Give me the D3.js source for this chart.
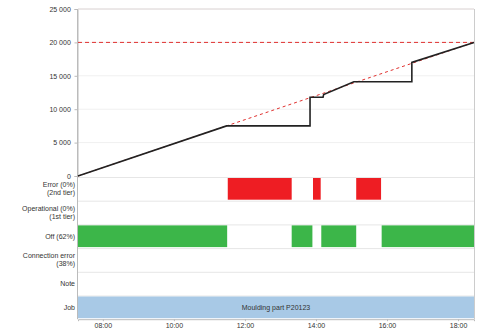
<!DOCTYPE html>
<html>
<head>
<meta charset="utf-8">
<script src="https://cdn.jsdelivr.net/npm/d3@7"></script>
<style>
  body { margin: 0; background: #fff; }
  text { font-family: "Liberation Sans", Arial, sans-serif; fill: #333; }
</style>
</head>
<body>
<div id="chart"></div>
<script>
'use strict';

// time span of the chart
const startTime = "07:18";
const endTime = "18:27";

// produced quantity (actual, stepped) and target line
const actualTimes = ["07:18", "11:29", "13:50", "13:50", "14:12", "14:13", "15:04", "16:42", "16:42", "18:27"];
const actualValues = [0, 7500, 7500, 11800, 11800, 12200, 14100, 14100, 17000, 20000];
const targetTimes = ["07:18", "18:27"];
const targetValues = [0, 20000];
const goalValue = 20000;

const yTicks = [0, 5000, 10000, 15000, 20000, 25000];
const xTicks = ["08:00", "10:00", "12:00", "14:00", "16:00", "18:00"];

// state lanes
const laneLabels = [["Error (0%)", "(2nd tier)"], ["Operational (0%)", "(1st tier)"], ["Off (62%)"],
    ["Connection error", "(38%)"], ["Note"], ["Job"]];
const errorStarts = ["11:31", "13:55", "15:08"];
const errorEnds = ["13:19", "14:08", "15:50"];
const offStarts = ["07:18", "13:19", "14:09", "15:51"];
const offEnds = ["11:30", "13:54", "15:08", "18:27"];
const jobStarts = ["07:18"];
const jobEnds = ["18:27"];
const jobNames = ["Moulding part P20123"];

const width = 477, height = 330;
const margin = { top: 9, left: 78, right: 3 };
const chartBottom = 176;
const laneH = 23.7;

const parse = d3.timeParse("%H:%M");

const svg = d3.select("#chart").append("svg")
    .attr("width", width)
    .attr("height", height);

const x = d3.scaleTime()
    .domain([parse(startTime), parse(endTime)])
    .range([margin.left, width - margin.right]);

const y = d3.scaleLinear()
    .domain([0, 25000])
    .range([chartBottom, margin.top]);

const fmt = v => v === 0 ? "0" : d3.format(",")(v).replace(",", " ");

// faint grid
svg.append("g")
    .selectAll("line")
    .data(yTicks.slice(1, -1))
    .join("line")
    .attr("x1", margin.left).attr("x2", width - margin.right)
    .attr("y1", d => y(d)).attr("y2", d => y(d))
    .attr("stroke", "#f0f0f0");

// frame
svg.append("line")
    .attr("x1", margin.left).attr("x2", width - margin.right)
    .attr("y1", margin.top).attr("y2", margin.top)
    .attr("stroke", "#d8d0d0");

// y axis
const yAxis = d3.axisLeft(y).tickValues(yTicks).tickFormat(fmt).tickSize(3);
svg.append("g")
    .attr("transform", `translate(${margin.left - 0.5},0)`)
    .call(yAxis)
    .call(g => g.select(".domain").attr("stroke", "#bbb"))
    .call(g => g.selectAll(".tick line").attr("stroke", "#bbb"))
    .call(g => g.selectAll("text").attr("font-size", 7).attr("fill", "#555").attr("dx", "-0.1em"));

// lanes
const laneTop = chartBottom + 1;
const lanes = svg.append("g");
lanes.selectAll("line")
    .data(d3.range(laneLabels.length))
    .join("line")
    .attr("x1", margin.left).attr("x2", width - margin.right)
    .attr("y1", i => laneTop + i * laneH + 0.5).attr("y2", i => laneTop + i * laneH + 0.5)
    .attr("stroke", "#e6e6e6");

lanes.selectAll("text")
    .data(laneLabels)
    .join("text")
    .attr("text-anchor", "end")
    .attr("font-size", 7)
    .attr("fill", "#555")
    .attr("x", margin.left - 3)
    .attr("y", (d, i) => laneTop + i * laneH + laneH / 2 - (d.length - 1) * 4 + 2.5)
    .selectAll("tspan")
    .data(d => d)
    .join("tspan")
    .attr("x", margin.left - 3)
    .attr("dy", (d, i) => i === 0 ? 0 : 8)
    .text(d => d);

function drawBars(starts, ends, lane, color) {
    svg.append("g")
        .selectAll("rect")
        .data(starts.map((s, i) => [s, ends[i]]))
        .join("rect")
        .attr("x", d => x(parse(d[0])))
        .attr("width", d => x(parse(d[1])) - x(parse(d[0])))
        .attr("y", laneTop + lane * laneH + 1)
        .attr("height", laneH - 2)
        .attr("fill", color);
}
drawBars(errorStarts, errorEnds, 0, "#ee1d23");
drawBars(offStarts, offEnds, 2, "#3cb649");
drawBars(jobStarts, jobEnds, 5, "#a8c9e6");

svg.append("g")
    .selectAll("text")
    .data(jobNames)
    .join("text")
    .attr("x", (d, i) => (x(parse(jobStarts[i])) + x(parse(jobEnds[i]))) / 2)
    .attr("y", laneTop + 5 * laneH + laneH / 2 + 2.5)
    .attr("text-anchor", "middle")
    .attr("font-size", 7)
    .attr("fill", "#333")
    .text(d => d);

// left/right borders over all
svg.append("line")
    .attr("x1", margin.left - 0.5).attr("x2", margin.left - 0.5)
    .attr("y1", margin.top).attr("y2", laneTop + 6 * laneH)
    .attr("stroke", "#bbb");
svg.append("line")
    .attr("x1", width - margin.right + 0.5).attr("x2", width - margin.right + 0.5)
    .attr("y1", margin.top).attr("y2", laneTop + 6 * laneH)
    .attr("stroke", "#ccc");

// x axis
const xAxis = d3.axisBottom(x).tickValues(xTicks.map(parse)).tickFormat(d3.timeFormat("%H:%M")).tickSize(2);
svg.append("g")
    .attr("transform", `translate(0,${laneTop + 6 * laneH})`)
    .call(xAxis)
    .call(g => g.select(".domain").attr("stroke", "#bbb"))
    .call(g => g.selectAll(".tick line").attr("stroke", "#bbb"))
    .call(g => g.selectAll("text").attr("font-size", 7).attr("fill", "#555").attr("dy", "0.5em"));

// goal and target lines
svg.append("line")
    .attr("x1", margin.left).attr("x2", width - margin.right)
    .attr("y1", y(goalValue)).attr("y2", y(goalValue))
    .attr("stroke", "#e0302e")
    .attr("stroke-width", 1)
    .attr("stroke-dasharray", "4,3");

const line = d3.line()
    .x(d => x(parse(d[0])))
    .y(d => y(d[1]));

svg.append("path")
    .datum(targetTimes.map((t, i) => [t, targetValues[i]]))
    .attr("d", line)
    .attr("fill", "none")
    .attr("stroke", "#e0302e")
    .attr("stroke-width", 1)
    .attr("stroke-dasharray", "3,3");

svg.append("path")
    .datum(actualTimes.map((t, i) => [t, actualValues[i]]))
    .attr("d", line)
    .attr("fill", "none")
    .attr("stroke", "#222")
    .attr("stroke-width", 1.6);
</script>
</body>
</html>
